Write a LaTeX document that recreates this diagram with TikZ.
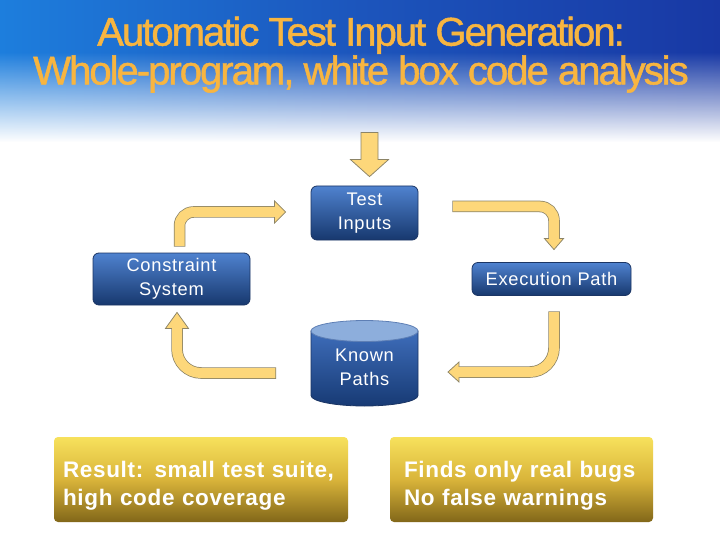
\documentclass[tikz,border=0pt]{standalone}
\usepackage{fontspec}
\setmainfont{Liberation Sans}
\newfontfamily\titlefont[LetterSpace=-5, FakeBold=1.2]{Liberation Sans}
\newfontfamily\boxfont[LetterSpace=4]{Liberation Sans}
\newfontfamily\notefont[LetterSpace=3]{Liberation Sans}
\usepackage{tikz}
\usetikzlibrary{positioning, calc, fadings}
\definecolor{skyleft}{HTML}{1D7EDD}
\definecolor{skymid}{HTML}{1C55BC}
\definecolor{skyright}{HTML}{1838A4}
\definecolor{skyhaze}{HTML}{FFFFFF}
\definecolor{titleorange}{HTML}{F8B540}
\definecolor{boxtop}{HTML}{4F82CF}
\definecolor{boxbot}{HTML}{17386E}
\definecolor{boxedge}{HTML}{1B3564}
\definecolor{cyltop}{HTML}{3E6DBA}
\definecolor{cylbot}{HTML}{173A74}
\definecolor{cylcap}{HTML}{8DAEDC}
\definecolor{capedge}{HTML}{5E7FB5}
\definecolor{goldtop}{HTML}{F7E15C}
\definecolor{goldmid}{HTML}{D9B43A}
\definecolor{goldbot}{HTML}{826719}
\definecolor{arrowfill}{HTML}{FDD77A}
\definecolor{arrowedge}{HTML}{8C8466}
\newdimen\unitpx \unitpx=0.025cm
\newcommand{\notestrut}{\rule{0pt}{20pt}}
\tikzfading[name=fadedown, top color=transparent!100, bottom color=transparent!0]
\tikzset{
    titletext/.style={text=titleorange, align=center, inner sep=0pt,
        font=\titlefont\fontsize{28.5}{25.6}\selectfont},
    flowbox/.style={draw=boxedge, line width=0.8\unitpx, rounded corners=6\unitpx,
        top color=boxtop, bottom color=boxbot, text=white,
        font=\boxfont\fontsize{13}{17}\selectfont, align=center, inner sep=0pt},
    cyltext/.style={text=white, font=\boxfont\fontsize{13}{17}\selectfont, align=center},
    notebox/.style={rounded corners=4\unitpx, top color=goldtop, bottom color=goldbot,
        middle color=goldmid, text=white, font=\notefont\bfseries\fontsize{16}{20}\selectfont,
        align=left, minimum height=85\unitpx},
    blockshaft/.style={line width=11.5\unitpx, draw=arrowedge, rounded corners=#1},
    blockfill/.style={line width=10\unitpx, draw=arrowfill, rounded corners=#1, shorten <=0.75\unitpx},
    blockhead/.style={fill=arrowfill, draw=arrowedge, line width=0.75\unitpx, line join=miter},
}

\begin{document}
\begin{tikzpicture}[x=0.025cm, y=0.025cm]
    \useasboundingbox (0,0) rectangle (720,540);

    % Background
    \fill[white] (0,0) rectangle (720,540);
    \shade[left color=skyleft, right color=skyright, middle color=skymid] (0,398) rectangle (720,540);
    \fill[skyhaze, path fading=fadedown] (0,398) rectangle (720,488);

    % Title
    \node[titletext] (title) at (361,485.3) {Automatic Test Input Generation:\\Whole-program, white box code analysis};

    % Loop boxes
    \node[flowbox, minimum width=107\unitpx, minimum height=54\unitpx] (ti) at (364.5,327) {Test\\Inputs};
    \node[flowbox, minimum width=157\unitpx, minimum height=52\unitpx] (cs) at (171.5,261) {Constraint\\System};
    \node[flowbox, minimum width=159\unitpx, minimum height=33\unitpx] (ep) at (551.5,261) {Execution Path};

    % Known Paths store
    \coordinate (kpmid) at (364.5,176.5);
    \shade[top color=cyltop, bottom color=cylbot, draw=boxedge, line width=0.8\unitpx]
        ($(kpmid)+(-53.5,32.5)$) -- ($(kpmid)+(-53.5,-32)$)
        arc[start angle=180, end angle=360, x radius=53.5, y radius=10.5]
        -- ($(kpmid)+(53.5,32.5)$) -- cycle;
    \draw[fill=cylcap, draw=capedge, line width=0.8\unitpx] ($(kpmid)+(0,32.5)$) ellipse [x radius=53.5, y radius=10.5];
    \node[cyltext] (kp) at ($(kpmid)+(0,-3.5)$) {Known\\Paths};

    % Feed into Test Inputs
    \coordinate (feed) at ($(ti.north)+(5,53)$);
    \draw[blockhead] ($(feed)+(-8.5,0)$) -- ($(feed)+(-8.5,-27)$) -- ($(feed)+(-19,-27)$)
        -- ($(ti.north)+(5,9)$) -- ($(feed)+(19,-27)$) -- ($(feed)+(8.5,-27)$) -- ($(feed)+(8.5,0)$) -- cycle;

    % Constraint System -> Test Inputs
    \coordinate (a1s) at ($(cs.north)+(8,6)$);
    \coordinate (a1t) at ($(ti.west)+(-25,1)$);
    \coordinate (a1b) at ($(a1t)+(-11,0)$);
    \draw[blockshaft=14\unitpx] (a1s) |- (a1b);
    \draw[blockhead] (a1t) -- ($(a1b)+(0,11)$) -- ($(a1b)+(0,-11)$) -- cycle;
    \draw[blockfill=14\unitpx] (a1s) |- ($(a1b)+(1.5,0)$);

    % Test Inputs -> Execution Path
    \coordinate (a2s) at ($(ti.east)+(34,6.5)$);
    \coordinate (a2t) at ($(ep.north)+(2.5,12.5)$);
    \coordinate (a2b) at ($(a2t)+(0,11)$);
    \draw[blockshaft=14\unitpx] (a2s) -| (a2b);
    \draw[blockhead] (a2t) -- ($(a2b)+(-9.5,0)$) -- ($(a2b)+(9.5,0)$) -- cycle;
    \draw[blockfill=14\unitpx] (a2s) -| ($(a2b)+(0,-1.5)$);

    % Execution Path -> Known Paths
    \coordinate (a3s) at ($(ep.south)+(2.5,-15.5)$);
    \coordinate (a3t) at ($(kp.center)+(83.5,-5)$);
    \coordinate (a3b) at ($(a3t)+(11,0)$);
    \draw[blockshaft=24\unitpx] (a3s) |- (a3b);
    \draw[blockhead] (a3t) -- ($(a3b)+(0,10)$) -- ($(a3b)+(0,-10)$) -- cycle;
    \draw[blockfill=24\unitpx] (a3s) |- ($(a3b)+(-1.5,0)$);

    % Known Paths -> Constraint System
    \coordinate (a4s) at ($(kp.center)+(-88.5,-6)$);
    \coordinate (a4t) at ($(cs.south)+(5.5,-7)$);
    \coordinate (a4b) at ($(a4t)+(0,-16)$);
    \draw[blockshaft=24\unitpx] (a4s) -| (a4b);
    \draw[blockhead] (a4t) -- ($(a4b)+(-11.5,0)$) -- ($(a4b)+(11.5,0)$) -- cycle;
    \draw[blockfill=24\unitpx] (a4s) -| ($(a4b)+(0,1.5)$);

    % Results
    \node[notebox, text width=276\unitpx, inner xsep=9\unitpx] (res) at (201,60.5) {\notestrut Result: small test suite,\\high code coverage};
    \node[notebox, text width=235\unitpx, inner xsep=14\unitpx] (fin) at (521.5,60.5) {\notestrut Finds only real bugs\\No false warnings};
\end{tikzpicture}
\end{document}
